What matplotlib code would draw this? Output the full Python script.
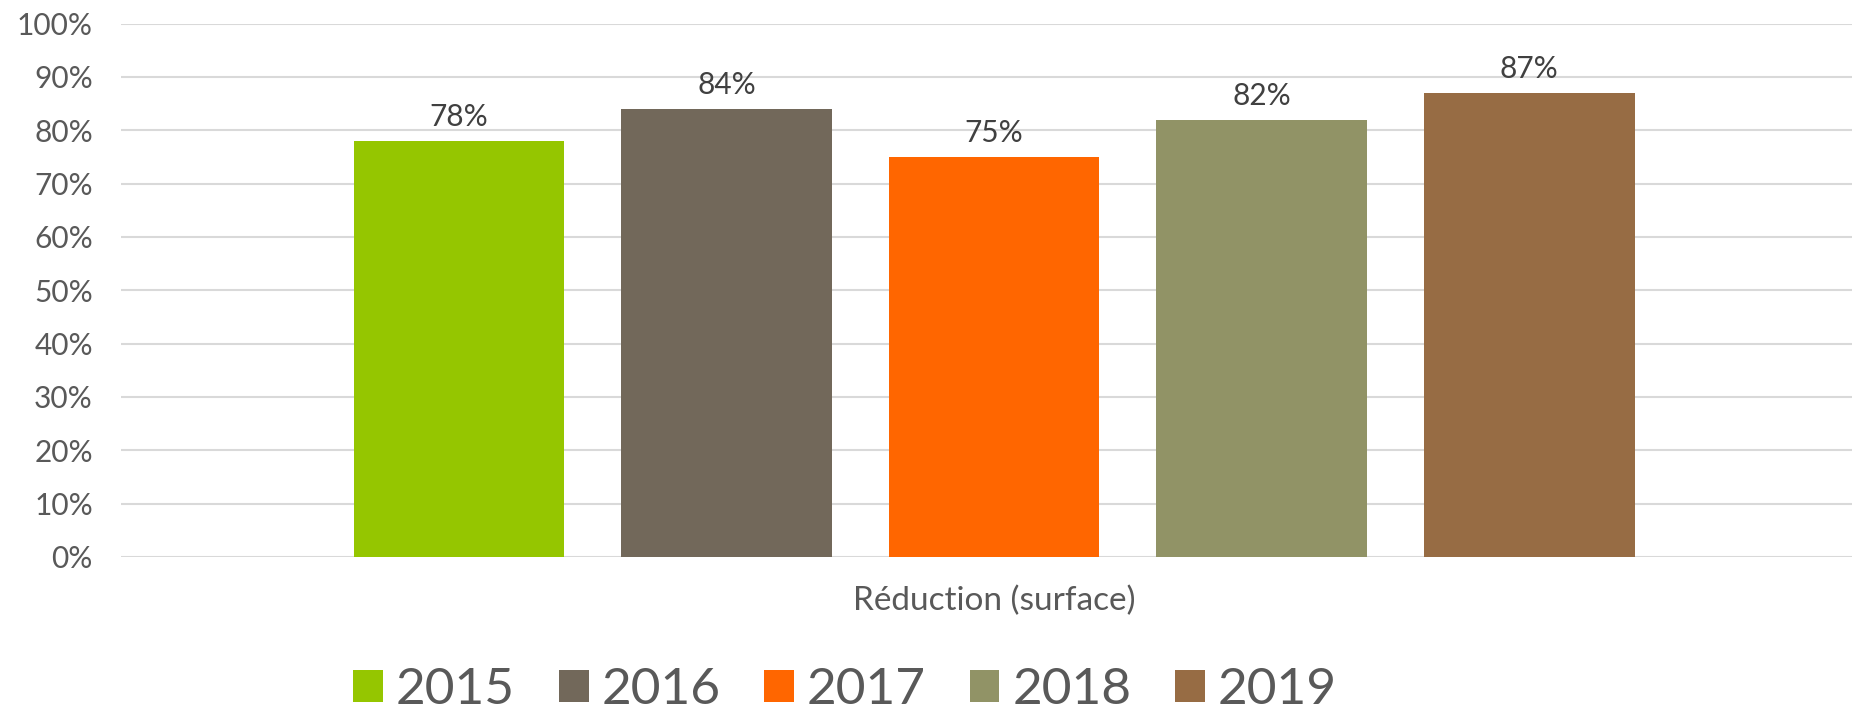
import matplotlib
matplotlib.use("Agg")
import matplotlib.pyplot as plt
from matplotlib.patches import Patch
from matplotlib.ticker import PercentFormatter

plt.rcParams['font.family'] = ['Lato', 'DejaVu Sans']

category = "Réduction (surface)"
years = ["2015", "2016", "2017", "2018", "2019"]
values = [78, 84, 75, 82, 87]
colors = ["#95C600", "#72685A", "#FF6600", "#919366", "#976C44"]
yticks = [0, 10, 20, 30, 40, 50, 60, 70, 80, 90, 100]

W, H = 1854, 717
fig = plt.figure(figsize=(W / 100, H / 100), dpi=100)
left, right = 120.6 / W, 1852 / W
bottom, top = 1 - 557 / H, 1 - 23.6 / H
ax = fig.add_axes([left, bottom, right - left, top - bottom])

n = len(years)
bw = 0.787
offsets = [i - (n - 1) / 2 for i in range(n)]
for off, v, c, yr in zip(offsets, values, colors, years):
    b = ax.bar(off, v, width=bw, color=c, label=yr, zorder=3)
    ax.bar_label(b, labels=[f"{v}%"], padding=7, fontsize=21.5, color="#404040")

ax.set_xlim(-3.264, 3.206)
ax.set_ylim(0, 100)
ax.set_yticks(yticks)
ax.yaxis.set_major_formatter(PercentFormatter(decimals=0))
ax.tick_params(axis='y', length=0, labelsize=21.5, labelcolor="#595959", pad=20)
ax.set_xticks([0])
ax.set_xticklabels([category])
ax.tick_params(axis='x', length=0, labelsize=24, labelcolor="#595959", pad=21)
ax.grid(axis='y', color="#D9D9D9", lw=1.5, zorder=0)
for s in ax.spines.values():
    s.set_visible(False)

handles = [Patch(facecolor=c, edgecolor='none') for c in colors]
fig.legend(handles, years, loc='center', bbox_to_anchor=(845 / W, 1 - 690 / H),
           ncol=5, frameon=False, fontsize=37, labelcolor="#595959",
           handlelength=0.58, handleheight=0.58, handletextpad=0.25,
           columnspacing=0.85)

fig.savefig("out.png", dpi=100)
